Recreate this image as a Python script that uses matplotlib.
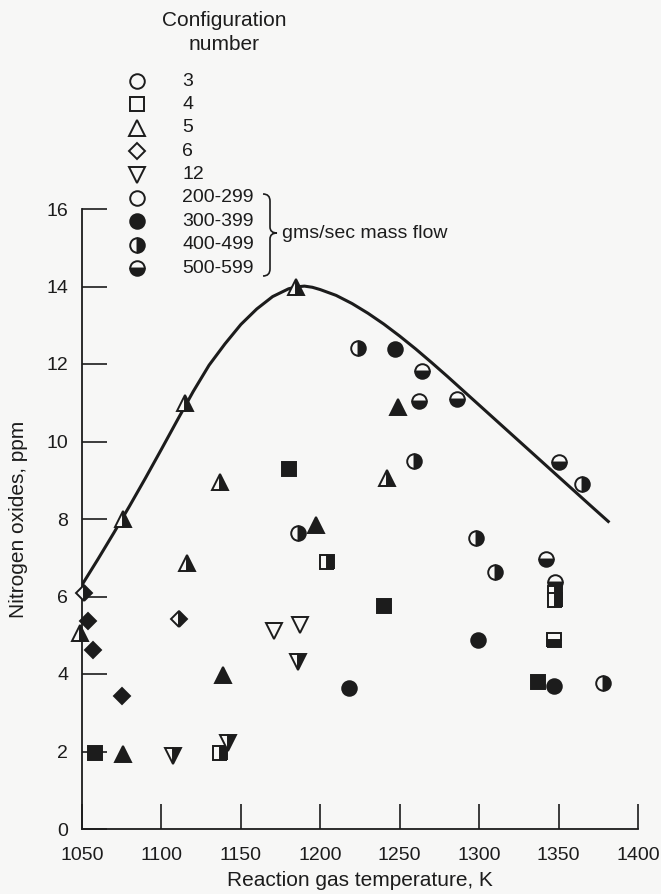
import matplotlib
matplotlib.use("Agg")
import matplotlib.pyplot as plt
from matplotlib.path import Path
from matplotlib.patches import PathPatch
from matplotlib.transforms import Affine2D

# ================= DATA =================
# configuration 3 -> circles
cfg3_temp = [1224, 1247, 1264, 1262, 1286, 1259, 1350, 1365, 1186, 1298,
             1310, 1342, 1348, 1299, 1218, 1347, 1378]
cfg3_nox = [12.42, 12.40, 11.83, 11.05, 11.10, 9.50, 9.47, 8.90, 7.63, 7.50,
            6.63, 6.97, 6.38, 4.89, 3.63, 3.69, 3.76]
cfg3_flow = [400, 300, 500, 500, 500, 400, 500, 400, 400, 400,
             400, 500, 500, 300, 300, 300, 400]

# configuration 4 -> squares
cfg4_temp = [1180, 1204, 1240, 1348, 1348, 1347, 1337, 1058, 1137]
cfg4_nox = [9.30, 6.90, 5.76, 6.10, 5.92, 4.87, 3.80, 1.97, 1.95]
cfg4_flow = [300, 400, 300, 400, 400, 500, 300, 300, 400]

# configuration 5 -> triangles
cfg5_temp = [1185, 1115, 1076, 1137, 1116, 1242, 1249, 1197, 1049, 1139, 1076]
cfg5_nox = [14.00, 11.00, 8.00, 8.95, 6.87, 9.05, 10.90, 7.85, 5.05, 3.97, 1.93]
cfg5_flow = [400, 400, 400, 400, 400, 400, 300, 300, 400, 300, 300]

# configuration 6 -> diamonds
cfg6_temp = [1051, 1054, 1057, 1075, 1111]
cfg6_nox = [6.09, 5.36, 4.63, 3.43, 5.42]
cfg6_flow = [400, 300, 300, 300, 400]

# configuration 12 -> inverted triangles
cfg12_temp = [1171, 1187, 1186, 1107, 1142]
cfg12_nox = [5.10, 5.27, 4.30, 1.89, 2.23]
cfg12_flow = [200, 200, 400, 400, 400]

# envelope curve
curve_temp = [1050, 1060, 1070, 1080, 1090, 1100, 1110, 1120, 1130, 1140,
              1150, 1160, 1170, 1180, 1185, 1190, 1195, 1200, 1210, 1220,
              1230, 1240, 1250, 1260, 1270, 1280, 1290, 1300, 1310, 1320,
              1330, 1340, 1350, 1360, 1370, 1382]
curve_nox = [6.30, 6.96, 7.64, 8.34, 9.06, 9.80, 10.55, 11.29, 11.97, 12.52,
             13.02, 13.42, 13.74, 13.94, 13.99, 14.01, 13.98, 13.92, 13.77, 13.56,
             13.31, 13.03, 12.72, 12.39, 12.04, 11.68, 11.31, 10.94, 10.57, 10.20,
             9.83, 9.46, 9.09, 8.72, 8.35, 7.91]

config_labels = ["3", "4", "5", "6", "12"]
flow_labels = ["200-299", "300-399", "400-499", "500-599"]
x_ticks = [1050, 1100, 1150, 1200, 1250, 1300, 1350, 1400]
y_ticks = [0, 2, 4, 6, 8, 10, 12, 14, 16]

# ================= STYLE =================
W, H = 661, 894
BG = "#f7f7f6"
INK = "#1c1c1c"
FONT = "Liberation Sans"
FS = 14
FS_LABEL = 15

MARKERS = {"3": "o", "4": "s", "5": "^", "6": "D", "12": "v"}
SIZES = {"o": 10.5, "s": 10.5, "^": 11, "D": 7.8, "v": 11}
FILLS = {200: "none", 300: "full", 400: "right", 500: "bottom"}

plt.rcParams["font.family"] = [FONT, "DejaVu Sans"]


def px(x, y):
    """pixel position (from top-left) -> figure fraction"""
    return x / W, 1 - y / H


def draw_marker(ax, x, y, marker, flow, **kw):
    style = FILLS[flow]
    if style == "none":
        face, fs = BG, "full"
    elif style == "full":
        face, fs = INK, "full"
    else:
        face, fs = INK, style
    ax.plot([x], [y], marker=marker, linestyle="none", markersize=SIZES[marker],
            markerfacecolor=face, markerfacecoloralt=BG, fillstyle=fs,
            markeredgecolor=INK, markeredgewidth=1.4, clip_on=False, zorder=3, **kw)


fig = plt.figure(figsize=(W / 100, H / 100), dpi=100, facecolor=BG)
ax = fig.add_axes([82 / W, 1 - 829 / H, (638 - 82) / W, (829 - 209) / H])
ax.set_facecolor(BG)

# curve
ax.plot(curve_temp, curve_nox, color=INK, linewidth=2.2, zorder=2,
        solid_capstyle="butt", solid_joinstyle="round")

groups = [
    ("3", cfg3_temp, cfg3_nox, cfg3_flow),
    ("4", cfg4_temp, cfg4_nox, cfg4_flow),
    ("5", cfg5_temp, cfg5_nox, cfg5_flow),
    ("6", cfg6_temp, cfg6_nox, cfg6_flow),
    ("12", cfg12_temp, cfg12_nox, cfg12_flow),
]
for cfg, temps, noxs, flows in groups:
    for t, n, f in zip(temps, noxs, flows):
        draw_marker(ax, t, n, MARKERS[cfg], f)

# axes
ax.set_xlim(1050, 1400)
ax.set_ylim(0, 16)
ax.set_xticks(x_ticks)
ax.set_yticks(y_ticks)
for s in ["top", "right"]:
    ax.spines[s].set_visible(False)
for s in ["left", "bottom"]:
    ax.spines[s].set_color(INK)
    ax.spines[s].set_linewidth(1.3)
ax.tick_params(axis="both", direction="in", length=18, width=1.2, colors=INK,
               labelsize=FS)
ax.tick_params(axis="x", pad=13)
ax.tick_params(axis="y", pad=10)

fig.text(*px(360, 881), "Reaction gas temperature, K", ha="center", va="center",
         fontsize=FS_LABEL, color=INK)
fig.text(*px(19, 519), "Nitrogen oxides, ppm", ha="center", va="center",
         rotation=90, fontsize=FS_LABEL, color=INK)

# legend (drawn by hand)
fig.text(*px(224, 20), "Configuration", ha="center", va="center",
         fontsize=FS_LABEL, color=INK)
fig.text(*px(224, 44), "number", ha="center", va="center",
         fontsize=FS_LABEL, color=INK)

row_y0, row_dy = 81, 23.4
legend_rows = [(MARKERS[c], 200, c) for c in config_labels]
legend_rows += [("o", f, lab) for f, lab in zip([200, 300, 400, 500], flow_labels)]
for i, (mk, flow, lab) in enumerate(legend_rows):
    yy = row_y0 + i * row_dy
    style = FILLS[flow]
    face = BG if style == "none" else INK
    fs = "full" if style in ("none", "full") else style
    fx, fy = px(137, yy)
    ax.plot([fx], [fy], transform=fig.transFigure, marker=mk, linestyle="none",
            markersize=SIZES[mk], markerfacecolor=face, markerfacecoloralt=BG,
            fillstyle=fs, markeredgecolor=INK, markeredgewidth=1.4, clip_on=False)
    fig.text(*px(182, yy), lab, ha="left", va="center", fontsize=FS, color=INK)

# brace for mass flow rows
x0, x1, x2 = 263, 270, 277
yt, ym, yb = 194, 233, 276
verts = [(x0, yt), (x1, yt), (x1, yt + 7), (x1, ym - 6), (x1, ym), (x2, ym),
         (x1, ym), (x1, ym + 6), (x1, yb - 7), (x1, yb), (x0, yb)]
codes = [Path.MOVETO, Path.CURVE3, Path.CURVE3, Path.LINETO, Path.CURVE3, Path.CURVE3,
         Path.CURVE3, Path.CURVE3, Path.LINETO, Path.CURVE3, Path.CURVE3]
to_fig = Affine2D().scale(1 / W, -1 / H).translate(0, 1) + fig.transFigure
brace = PathPatch(Path(verts, codes), facecolor="none", edgecolor=INK,
                  linewidth=1.2, transform=to_fig)
fig.add_artist(brace)
fig.text(*px(282, 233), "gms/sec mass flow", ha="left", va="center",
         fontsize=FS, color=INK)

fig.savefig("out.png", dpi=100, facecolor=BG)
